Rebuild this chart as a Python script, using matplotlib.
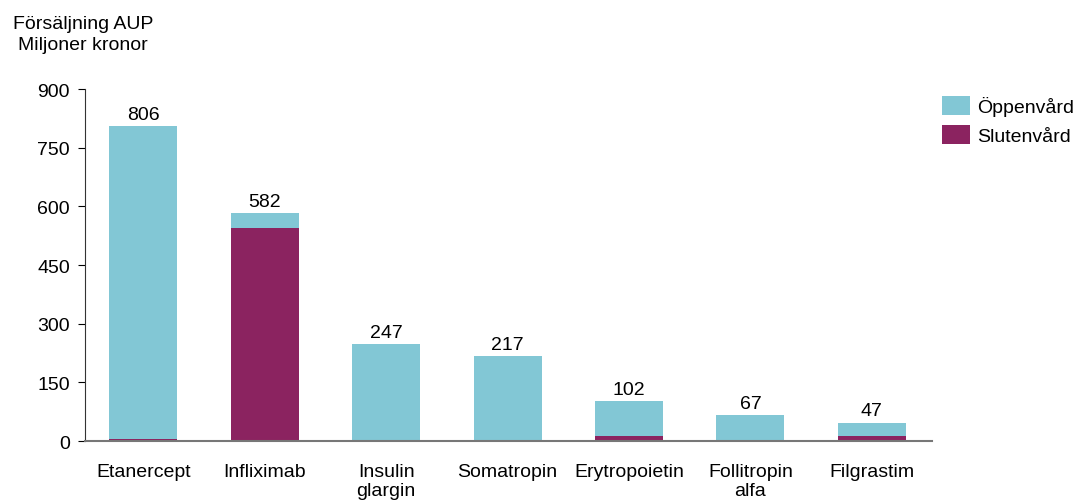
import matplotlib.pyplot as plt
import numpy as np

plt.rcParams['font.family'] = ['Liberation Sans', 'DejaVu Sans']

categories = ['Etanercept', 'Infliximab', 'Insulin\nglargin', 'Somatropin',
              'Erytropoietin', 'Follitropin\nalfa', 'Filgrastim']
totals = [806, 582, 247, 217, 102, 67, 47]
sluten = [4, 545, 1, 0, 12, 0, 12]
oppen = [t - s for t, s in zip(totals, sluten)]

c_oppen = '#82C7D5'
c_sluten = '#8B2360'
fs = 14

fig = plt.figure(figsize=(10.78, 5.02), dpi=100)
ax = fig.add_axes([0.079, 0.1195, 0.786, 0.7012])

x = np.arange(len(categories))
ax.bar(x, sluten, width=0.56, color=c_sluten, label='Slutenvård')
ax.bar(x, oppen, width=0.56, bottom=sluten, color=c_oppen, label='Öppenvård')

for xi, t in zip(x, totals):
    ax.text(xi, t + 8, str(t), ha='center', va='bottom', fontsize=fs)

ax.set_xlim(-0.48, 6.5)
ax.set_ylim(0, 900)
ax.set_yticks(range(0, 901, 150))
ax.set_xticks(x)
ax.set_xticklabels(categories, fontsize=fs, va='top', linespacing=1.1)
ax.tick_params(axis='x', length=0, pad=16)
ax.tick_params(axis='y', length=5, labelsize=fs, pad=6)
for s in ['top', 'right']:
    ax.spines[s].set_visible(False)
ax.spines['left'].set_color('#333333')
ax.spines['bottom'].set_color('#777777')
ax.spines['bottom'].set_linewidth(1.5)

handles, labels = ax.get_legend_handles_labels()
fig.legend(handles[::-1], labels[::-1], loc='upper left', bbox_to_anchor=(0.8665, 0.822),
           frameon=False, fontsize=fs, handlelength=1.45, handleheight=1.1,
           handletextpad=0.35, labelspacing=0.45, borderaxespad=0)

fig.text(0.077, 0.968, 'Försäljning AUP\nMiljoner kronor', ha='center', va='top',
         fontsize=fs, linespacing=1.3)

fig.savefig('out.png', dpi=100)
